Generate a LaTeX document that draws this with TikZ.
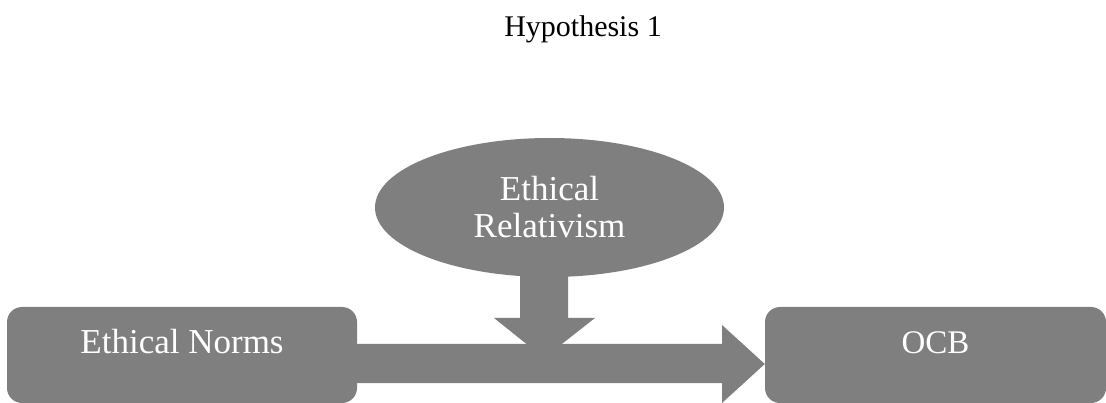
\documentclass[tikz,border=0pt]{standalone}
\usepackage{fontspec}
\setmainfont{Liberation Serif}
\usetikzlibrary{shapes.geometric}
\definecolor{boxgray}{RGB}{127,127,127}
\tikzset{
  gbox/.style={fill=boxgray, draw=none, rounded corners=15pt, inner sep=0pt,
    text=white, font=\fontsize{35}{38}\selectfont, text height=23pt, text depth=27pt},
  gell/.style={ellipse, fill=boxgray, draw=none, inner sep=0pt, text=white,
    align=center, font=\fontsize{35}{37}\selectfont},
  garrow/.style={fill=boxgray, draw=none},
  title/.style={font=\fontsize{30}{34}\selectfont, inner sep=0pt}
}
\begin{document}
\begin{tikzpicture}[x=1pt,y=-1pt]
\useasboundingbox (0,0) rectangle (1106,403);
\node[title, anchor=base] (t) at (583,37) {Hypothesis 1};
\node[gbox, minimum width=350pt, minimum height=96pt] (L) at (182,355) {Ethical Norms};
\node[gbox, minimum width=341pt, minimum height=96pt, font=\fontsize{33}{36}\selectfont] (R) at (935.5,355) {OCB};
\node[gell, minimum width=349pt, minimum height=139pt] (E) at (549.5,207.5) {Ethical\\Relativism};
% moderator arrow
\fill[garrow] ([yshift=15pt]E.south -| 520,0) -- (520,318) -- (494,318) -- (544,358)
  -- (595,318) -- (568,318) -- ([yshift=15pt]E.south -| 568,0) -- cycle;
% main arrow
\fill[garrow] ([xshift=-5pt]L.east |- 0,344) -- (722,344) -- (722,325) -- (R.west |- 0,364)
  -- (722,403) -- (722,383) -- ([xshift=-5pt]L.east |- 0,383) -- cycle;
\end{tikzpicture}
\end{document}
